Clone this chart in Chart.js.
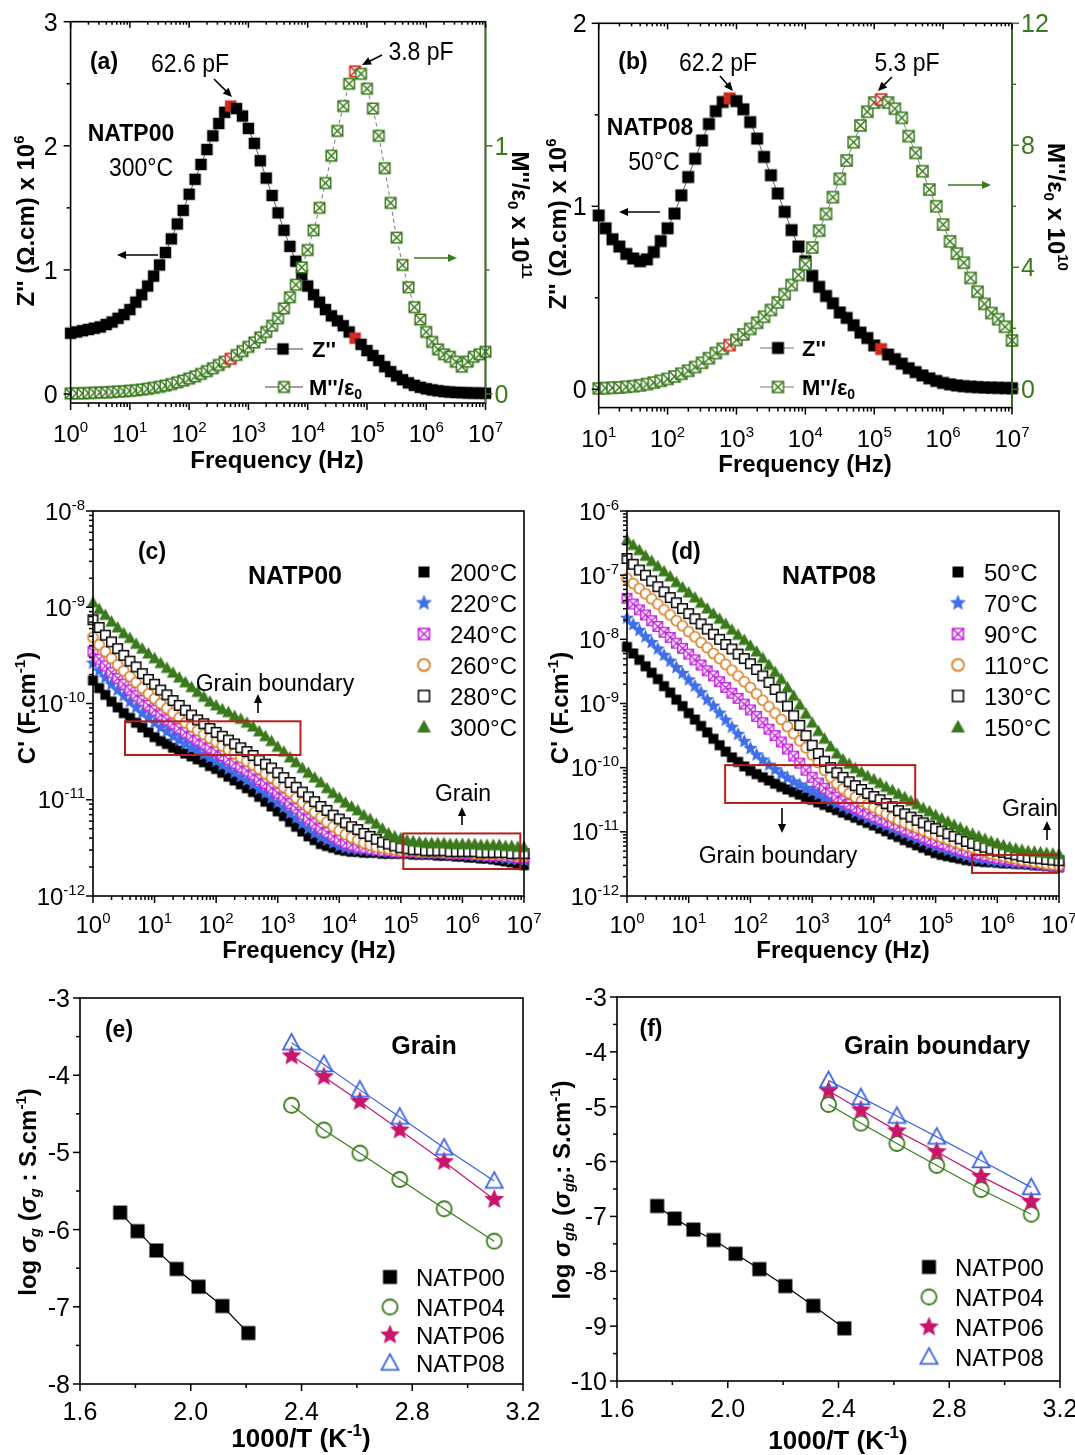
<!DOCTYPE html>
<html><head><meta charset="utf-8">
<script src="https://cdn.jsdelivr.net/npm/chart.js@4.4.1/dist/chart.umd.min.js"></script>
<style>
html,body{margin:0;padding:0;background:#fff;}
#wrap{position:relative;width:1075px;height:1455px;overflow:hidden;background:#fff;}
#wrap canvas{position:absolute;left:0;top:0;}
</style></head><body><div id="wrap">
<canvas id="ca" width="1075" height="1455"></canvas>
<canvas id="cb" width="1075" height="1455"></canvas>
<canvas id="cc" width="1075" height="1455"></canvas>
<canvas id="cd" width="1075" height="1455"></canvas>
<canvas id="ce" width="1075" height="1455"></canvas>
<canvas id="cf" width="1075" height="1455"></canvas>
</div>
<script>
// ---------------- DATA ----------------
// log10(frequency / Hz)
const LOGF_A = [0,0.1,0.2,0.3,0.4,0.5,0.6,0.7,0.8,0.9,1,1.1,1.2,1.3,1.4,1.5,1.6,1.7,1.8,1.9,2,2.1,2.2,2.3,2.4,2.5,2.6,2.7,2.8,2.9,3,3.1,3.2,3.3,3.4,3.5,3.6,3.7,3.8,3.9,4,4.1,4.2,4.3,4.4,4.5,4.6,4.7,4.8,4.9,5,5.1,5.2,5.3,5.4,5.5,5.6,5.7,5.8,5.9,6,6.1,6.2,6.3,6.4,6.5,6.6,6.7,6.8,6.9,7];
const LOGF_B = [1,1.1,1.2,1.3,1.4,1.5,1.6,1.7,1.8,1.9,2,2.1,2.2,2.3,2.4,2.5,2.6,2.7,2.8,2.9,3,3.1,3.2,3.3,3.4,3.5,3.6,3.7,3.8,3.9,4,4.1,4.2,4.3,4.4,4.5,4.6,4.7,4.8,4.9,5,5.1,5.2,5.3,5.4,5.5,5.6,5.7,5.8,5.9,6,6.1,6.2,6.3,6.4,6.5,6.6,6.7,6.8,6.9,7];

// (a) NATP00, 300°C : Z'' (x10^6 ohm.cm) and M''/e0 (x10^11)
const Z_A = [0.49,0.50,0.51,0.52,0.53,0.54,0.56,0.58,0.61,0.64,
 0.68,0.74,0.80,0.87,0.95,1.04,1.14,1.25,1.37,1.48,
 1.61,1.73,1.85,1.97,2.08,2.18,2.27,2.32,2.30,2.24,
 2.14,2.02,1.88,1.74,1.60,1.46,1.32,1.19,1.07,0.96,
 0.87,0.80,0.74,0.68,0.63,0.59,0.55,0.50,0.45,0.40,
 0.35,0.31,0.27,0.22,0.18,0.145,0.115,0.09,0.07,0.054,
 0.042,0.033,0.026,0.02,0.016,0.013,0.011,0.009,0.008,0.007,0.006];
const M_A = [0.002,0.003,0.003,0.004,0.005,0.006,0.007,0.008,0.010,0.011,
 0.013,0.015,0.018,0.021,0.025,0.029,0.034,0.040,0.047,0.054,
 0.062,0.071,0.081,0.092,0.104,0.117,0.130,0.142,0.157,0.173,
 0.190,0.208,0.228,0.250,0.275,0.305,0.345,0.39,0.44,0.51,
 0.58,0.66,0.75,0.85,0.96,1.06,1.16,1.25,1.30,1.29,
 1.23,1.15,1.04,0.91,0.77,0.63,0.52,0.43,0.35,0.30,
 0.25,0.21,0.18,0.16,0.15,0.13,0.11,0.13,0.15,0.16,0.17];
const RED_A = [27,48];

// (b) NATP08, 50°C : Z'' (x10^6) and M''/e0 (x10^10)
const Z_B = [0.95,0.88,0.82,0.78,0.74,0.715,0.70,0.71,0.75,0.81,
 0.88,0.96,1.06,1.16,1.26,1.36,1.45,1.52,1.57,1.59,
 1.575,1.53,1.46,1.37,1.27,1.17,1.07,0.97,0.87,0.78,
 0.70,0.62,0.56,0.51,0.47,0.42,0.39,0.35,0.31,0.28,
 0.24,0.22,0.19,0.165,0.14,0.115,0.094,0.076,0.06,0.046,
 0.035,0.027,0.021,0.017,0.014,0.012,0.010,0.009,0.008,0.007,0.006];
const M_B = [0.03,0.04,0.05,0.06,0.08,0.10,0.13,0.17,0.22,0.28,
 0.34,0.42,0.51,0.61,0.73,0.87,1.02,1.19,1.33,1.45,
 1.62,1.8,1.98,2.18,2.38,2.6,2.85,3.12,3.42,3.75,
 4.1,4.65,5.2,5.75,6.3,6.9,7.5,8.1,8.65,9.1,
 9.4,9.5,9.4,9.2,8.9,8.3,7.75,7.15,6.55,6.0,
 5.4,4.85,4.45,4.15,3.65,3.2,2.8,2.5,2.3,2.05,1.6];
const RED_B = [19,41];

// (c) NATP00 : log10 C' (F/cm) vs LOGF_A
const TEMPS_C = ['200°C','220°C','240°C','260°C','280°C','300°C'];
const LC_200 = [-9.76,-9.84,-9.91,-9.98,-10.04,-10.1,-10.15,-10.2,-10.25,-10.3,
 -10.35,-10.39,-10.42,-10.46,-10.49,-10.52,-10.55,-10.58,-10.61,-10.65,
 -10.68,-10.72,-10.76,-10.8,-10.84,-10.88,-10.92,-10.97,-11.02,-11.07,
 -11.12,-11.17,-11.23,-11.28,-11.33,-11.38,-11.42,-11.46,-11.48,-11.5,
 -11.52,-11.53,-11.54,-11.54,-11.55,-11.55,-11.55,-11.56,-11.56,-11.56,
 -11.56,-11.56,-11.57,-11.57,-11.57,-11.57,-11.58,-11.58,-11.58,-11.59,
 -11.59,-11.6,-11.6,-11.61,-11.61,-11.62,-11.63,-11.64,-11.65,-11.67,-11.68];
const LC_220 = [-9.58,-9.66,-9.73,-9.8,-9.86,-9.92,-9.98,-10.04,-10.1,-10.15,
 -10.2,-10.25,-10.29,-10.34,-10.38,-10.42,-10.46,-10.49,-10.53,-10.56,
 -10.6,-10.64,-10.68,-10.72,-10.76,-10.8,-10.84,-10.89,-10.93,-10.98,
 -11.03,-11.08,-11.14,-11.19,-11.25,-11.3,-11.35,-11.39,-11.42,-11.45,
 -11.48,-11.5,-11.51,-11.52,-11.52,-11.53,-11.53,-11.54,-11.54,-11.55,
 -11.55,-11.55,-11.55,-11.56,-11.56,-11.56,-11.56,-11.56,-11.57,-11.57,
 -11.57,-11.58,-11.58,-11.59,-11.59,-11.6,-11.6,-11.61,-11.62,-11.62,-11.63];
const LC_240 = [-9.46,-9.54,-9.61,-9.68,-9.74,-9.8,-9.86,-9.92,-9.97,-10.02,
 -10.07,-10.12,-10.17,-10.21,-10.26,-10.3,-10.34,-10.38,-10.42,-10.46,
 -10.5,-10.54,-10.58,-10.62,-10.66,-10.7,-10.74,-10.79,-10.83,-10.88,
 -10.93,-10.98,-11.04,-11.09,-11.15,-11.2,-11.25,-11.3,-11.34,-11.38,
 -11.42,-11.45,-11.47,-11.49,-11.5,-11.51,-11.52,-11.53,-11.53,-11.54,
 -11.54,-11.54,-11.54,-11.55,-11.55,-11.55,-11.55,-11.55,-11.56,-11.56,
 -11.56,-11.56,-11.57,-11.57,-11.58,-11.58,-11.58,-11.59,-11.59,-11.6,-11.6];
const LC_260 = [-9.31,-9.39,-9.46,-9.53,-9.6,-9.66,-9.72,-9.78,-9.84,-9.9,
 -9.95,-10.0,-10.05,-10.1,-10.15,-10.2,-10.24,-10.28,-10.32,-10.36,
 -10.4,-10.44,-10.48,-10.52,-10.56,-10.6,-10.64,-10.68,-10.73,-10.77,
 -10.82,-10.87,-10.92,-10.98,-11.03,-11.08,-11.13,-11.18,-11.23,-11.28,
 -11.32,-11.36,-11.39,-11.42,-11.45,-11.47,-11.49,-11.5,-11.51,-11.52,
 -11.53,-11.53,-11.53,-11.54,-11.54,-11.54,-11.54,-11.55,-11.55,-11.55,
 -11.55,-11.55,-11.56,-11.56,-11.56,-11.56,-11.57,-11.57,-11.57,-11.58,-11.58];
const LC_280 = [-9.13,-9.21,-9.29,-9.36,-9.43,-9.5,-9.56,-9.62,-9.69,-9.75,
 -9.8,-9.86,-9.91,-9.97,-10.02,-10.07,-10.12,-10.17,-10.21,-10.26,
 -10.3,-10.34,-10.38,-10.42,-10.46,-10.5,-10.54,-10.59,-10.63,-10.67,
 -10.72,-10.77,-10.82,-10.87,-10.92,-10.97,-11.02,-11.07,-11.11,-11.16,
 -11.2,-11.24,-11.28,-11.31,-11.35,-11.38,-11.41,-11.44,-11.46,-11.48,
 -11.5,-11.51,-11.52,-11.52,-11.53,-11.53,-11.53,-11.53,-11.54,-11.54,
 -11.54,-11.54,-11.54,-11.55,-11.55,-11.55,-11.55,-11.55,-11.56,-11.56,-11.56];
const LC_300 = [-8.95,-9.02,-9.08,-9.15,-9.21,-9.27,-9.32,-9.38,-9.43,-9.48,
 -9.53,-9.58,-9.63,-9.68,-9.73,-9.78,-9.83,-9.88,-9.93,-9.98,
 -10.02,-10.06,-10.09,-10.13,-10.16,-10.2,-10.24,-10.29,-10.34,-10.39,
 -10.45,-10.5,-10.56,-10.61,-10.67,-10.72,-10.77,-10.82,-10.88,-10.93,
 -10.98,-11.03,-11.07,-11.11,-11.16,-11.2,-11.25,-11.3,-11.35,-11.38,
 -11.4,-11.42,-11.43,-11.44,-11.45,-11.45,-11.45,-11.45,-11.46,-11.46,
 -11.46,-11.46,-11.46,-11.47,-11.47,-11.47,-11.47,-11.48,-11.48,-11.49,-11.49];

// (d) NATP08 : log10 C' (F/cm) vs LOGF_A
const TEMPS_D = ['50°C','70°C','90°C','110°C','130°C','150°C'];
const LD_50 = [-8.12,-8.22,-8.32,-8.42,-8.52,-8.62,-8.73,-8.83,-8.94,-9.04,
 -9.15,-9.25,-9.35,-9.45,-9.55,-9.65,-9.75,-9.84,-9.91,-9.98,
 -10.05,-10.1,-10.15,-10.2,-10.25,-10.3,-10.34,-10.38,-10.42,-10.46,
 -10.5,-10.54,-10.58,-10.62,-10.66,-10.7,-10.74,-10.78,-10.82,-10.86,
 -10.9,-10.95,-10.99,-11.04,-11.08,-11.13,-11.17,-11.21,-11.25,-11.29,
 -11.33,-11.36,-11.38,-11.4,-11.42,-11.44,-11.45,-11.46,-11.47,-11.47,
 -11.48,-11.49,-11.49,-11.5,-11.5,-11.51,-11.52,-11.52,-11.53,-11.54,-11.55];
const LD_70 = [-7.67,-7.77,-7.86,-7.96,-8.05,-8.15,-8.25,-8.34,-8.44,-8.53,
 -8.63,-8.73,-8.83,-8.94,-9.04,-9.15,-9.26,-9.37,-9.48,-9.59,
 -9.7,-9.8,-9.88,-9.96,-10.03,-10.1,-10.16,-10.22,-10.27,-10.32,
 -10.37,-10.42,-10.47,-10.52,-10.56,-10.61,-10.65,-10.7,-10.74,-10.79,
 -10.83,-10.87,-10.91,-10.95,-10.99,-11.03,-11.07,-11.11,-11.15,-11.19,
 -11.23,-11.26,-11.29,-11.32,-11.35,-11.38,-11.4,-11.42,-11.43,-11.45,
 -11.46,-11.47,-11.48,-11.49,-11.49,-11.5,-11.51,-11.52,-11.53,-11.55,-11.56];
const LD_90 = [-7.36,-7.45,-7.54,-7.62,-7.71,-7.8,-7.89,-7.97,-8.06,-8.14,
 -8.23,-8.32,-8.4,-8.49,-8.57,-8.66,-8.75,-8.84,-8.92,-9.01,
 -9.1,-9.2,-9.3,-9.4,-9.5,-9.6,-9.71,-9.82,-9.93,-10.04,
 -10.15,-10.24,-10.32,-10.39,-10.46,-10.52,-10.57,-10.62,-10.67,-10.72,
 -10.76,-10.8,-10.84,-10.88,-10.92,-10.96,-11.0,-11.04,-11.08,-11.12,
 -11.15,-11.18,-11.22,-11.25,-11.28,-11.31,-11.33,-11.35,-11.37,-11.39,
 -11.41,-11.42,-11.43,-11.45,-11.46,-11.47,-11.48,-11.49,-11.5,-11.52,-11.53];
const LD_110 = [-7.05,-7.13,-7.21,-7.29,-7.37,-7.45,-7.54,-7.62,-7.71,-7.79,
 -7.88,-7.96,-8.05,-8.13,-8.22,-8.3,-8.39,-8.48,-8.57,-8.66,
 -8.75,-8.85,-8.95,-9.05,-9.15,-9.25,-9.36,-9.47,-9.58,-9.69,
 -9.8,-9.92,-10.04,-10.15,-10.25,-10.33,-10.4,-10.46,-10.52,-10.57,
 -10.62,-10.67,-10.72,-10.77,-10.82,-10.86,-10.9,-10.94,-10.98,-11.02,
 -11.05,-11.09,-11.12,-11.16,-11.19,-11.22,-11.25,-11.28,-11.31,-11.34,
 -11.36,-11.38,-11.4,-11.42,-11.44,-11.45,-11.47,-11.48,-11.5,-11.51,-11.52];
const LD_130 = [-6.74,-6.83,-6.92,-7.0,-7.09,-7.18,-7.26,-7.35,-7.43,-7.52,
 -7.6,-7.68,-7.76,-7.84,-7.92,-8.0,-8.08,-8.15,-8.23,-8.3,
 -8.38,-8.47,-8.57,-8.67,-8.78,-8.9,-9.04,-9.19,-9.34,-9.5,
 -9.65,-9.78,-9.9,-10.0,-10.08,-10.15,-10.22,-10.28,-10.34,-10.4,
 -10.45,-10.5,-10.56,-10.61,-10.67,-10.72,-10.77,-10.82,-10.86,-10.91,
 -10.95,-10.99,-11.03,-11.07,-11.11,-11.15,-11.18,-11.21,-11.24,-11.27,
 -11.3,-11.32,-11.34,-11.36,-11.38,-11.4,-11.41,-11.42,-11.43,-11.44,-11.45];
const LD_150 = [-6.45,-6.53,-6.61,-6.7,-6.78,-6.86,-6.94,-7.02,-7.11,-7.19,
 -7.27,-7.35,-7.43,-7.52,-7.6,-7.68,-7.76,-7.85,-7.93,-8.01,
 -8.1,-8.19,-8.29,-8.4,-8.51,-8.62,-8.75,-8.88,-9.02,-9.16,
 -9.3,-9.43,-9.55,-9.67,-9.78,-9.87,-9.94,-10.01,-10.07,-10.13,
 -10.18,-10.24,-10.3,-10.35,-10.41,-10.46,-10.52,-10.57,-10.63,-10.68,
 -10.74,-10.79,-10.84,-10.89,-10.94,-10.99,-11.03,-11.07,-11.11,-11.15,
 -11.18,-11.21,-11.24,-11.26,-11.28,-11.3,-11.31,-11.32,-11.33,-11.34,-11.35];

// (e),(f) Arrhenius: 1000/T (K^-1) and log sigma
const SAMPLES = ['NATP00','NATP04','NATP06','NATP08'];
const INVT_00_G = [1.745,1.808,1.876,1.949,2.028,2.114,2.208];
const INVT_00_GB = [1.745,1.808,1.876,1.949,2.028,2.114,2.208,2.309,2.421];
const INVT_DOPED = [2.364,2.481,2.611,2.755,2.915,3.096];
const LOGSG_00 = [-5.78,-6.02,-6.27,-6.51,-6.74,-6.99,-7.34];
const LOGSG_04 = [-4.39,-4.71,-5.01,-5.35,-5.73,-6.15];
const LOGSG_06 = [-3.75,-4.02,-4.34,-4.71,-5.12,-5.61];
const LOGSG_08 = [-3.58,-3.86,-4.19,-4.54,-4.94,-5.37];
const LOGSGB_00 = [-6.81,-7.04,-7.24,-7.43,-7.68,-7.96,-8.27,-8.63,-9.04];
const LOGSGB_04 = [-4.96,-5.30,-5.67,-6.07,-6.51,-6.96];
const LOGSGB_06 = [-4.71,-5.06,-5.44,-5.82,-6.27,-6.73];
const LOGSGB_08 = [-4.52,-4.83,-5.17,-5.55,-5.98,-6.47];

// ---------------- STYLE ----------------
const FONT = '"Liberation Sans", Arial, Helvetica, sans-serif';
const GREEN = '#3a7a1c', BLUE = '#3f6ee6', MAG = '#c21fdc', ORANGE = '#d8822a',
      CRIMSON = '#c8176b', BLUET = '#3b63e0', RED = '#d42a1e', BOXRED = '#b3201c';
const TICK_SIZE = 24;

function mk(kind, s, stroke, fill, lw){
  lw = lw || 1.2;
  const n = 2*Math.ceil(s/2 + lw + 1) + 1;
  const c = document.createElement('canvas'); c.width = n; c.height = n;
  const g = c.getContext('2d'); g.translate(n/2, n/2);
  g.lineWidth = lw; g.strokeStyle = stroke || '#000'; g.fillStyle = fill || '#fff';
  const h = s/2;
  if (kind === 'sq'){ g.fillRect(-h,-h,s,s); if (stroke) g.strokeRect(-h,-h,s,s); }
  else if (kind === 'xsq'){ g.fillRect(-h,-h,s,s); g.strokeRect(-h,-h,s,s); g.beginPath(); g.moveTo(-h,-h); g.lineTo(h,h); g.moveTo(h,-h); g.lineTo(-h,h); g.stroke(); }
  else if (kind === 'circ'){ g.beginPath(); g.arc(0,0,h,0,2*Math.PI); g.fill(); g.stroke(); }
  else if (kind === 'tri'){ g.beginPath(); g.moveTo(0,-h*1.05); g.lineTo(h,h*0.8); g.lineTo(-h,h*0.8); g.closePath(); g.fill(); if (stroke) g.stroke(); }
  else if (kind === 'star'){ g.beginPath(); for (let i=0;i<10;i++){ const r = i%2 ? h*0.45 : h; const a = -Math.PI/2 + i*Math.PI/5; g.lineTo(r*Math.cos(a), r*Math.sin(a)); } g.closePath(); g.fill(); }
  return c;
}

function rich(ctx, x, y, parts, o){
  o = o || {};
  const size = o.size || 22, fam = o.fam || FONT, w0 = o.bold ? 'bold ' : '';
  const f = k => (k.indexOf('i')>=0 ? 'italic ' : '') + w0 + ((k.indexOf('^')>=0 || k.indexOf('_')>=0) ? Math.round(size*0.64) : size) + 'px ' + fam;
  ctx.save(); ctx.translate(x, y); if (o.rot) ctx.rotate(o.rot); if (o.sx) ctx.scale(o.sx, 1);
  let w = 0; for (const [t,k] of parts){ ctx.font = f(k||''); w += ctx.measureText(t).width; }
  let cx = o.align === 'left' ? 0 : (o.align === 'right' ? -w : -w/2);
  ctx.fillStyle = o.color || '#000'; ctx.textBaseline = 'alphabetic'; ctx.textAlign = 'left';
  const base = size*0.36;
  for (const [t,k0] of parts){ const k = k0 || ''; ctx.font = f(k); let dy = base;
    if (k.indexOf('^')>=0) dy = base - size*0.42; if (k.indexOf('_')>=0) dy = base + size*0.2;
    ctx.fillText(t, cx, dy); cx += ctx.measureText(t).width; }
  ctx.restore();
}

function arrow(ctx, x1, y1, x2, y2, color, lw, hl){
  lw = lw || 1.6; hl = hl || 9; color = color || '#000';
  const a = Math.atan2(y2-y1, x2-x1);
  ctx.save(); ctx.strokeStyle = color; ctx.fillStyle = color; ctx.lineWidth = lw;
  ctx.beginPath(); ctx.moveTo(x1,y1); ctx.lineTo(x2 - Math.cos(a)*hl*0.8, y2 - Math.sin(a)*hl*0.8); ctx.stroke();
  ctx.beginPath(); ctx.moveTo(x2,y2);
  ctx.lineTo(x2 - hl*Math.cos(a) + hl*0.45*Math.sin(a), y2 - hl*Math.sin(a) - hl*0.45*Math.cos(a));
  ctx.lineTo(x2 - hl*Math.cos(a) - hl*0.45*Math.sin(a), y2 - hl*Math.sin(a) + hl*0.45*Math.cos(a));
  ctx.closePath(); ctx.fill(); ctx.restore();
}

function decades(e0, e1){ const r = []; for (let e=e0; e<=e1; e++) r.push(Math.pow(10,e)); return r; }
function logMinor(e0, e1){ const r = []; for (let e=e0; e<e1; e++) for (let k=2; k<10; k++) r.push(k*Math.pow(10,e)); return r; }
function decLabels(e0, e1){ const r = []; for (let e=e0; e<=e1; e++) r.push([Math.pow(10,e), [['10',''],[String(e),'^']]]); return r; }
function numLabels(vals, fmt){ return vals.map(v => [v, [[fmt ? fmt(v) : String(v), '']]]); }

function drawAxis(chart, a){
  const ctx = chart.ctx, ca = chart.chartArea, s = chart.scales[a.scale];
  ctx.save(); ctx.strokeStyle = a.color || '#000'; ctx.lineWidth = a.lw || 1.5;
  const tick = (v, len) => { const p = s.getPixelForValue(v); ctx.beginPath();
    if (a.side === 'bottom'){ const d = a.inward ? -1 : 1; ctx.moveTo(p, ca.bottom); ctx.lineTo(p, ca.bottom + d*len); }
    else if (a.side === 'top'){ const d = a.inward ? 1 : -1; ctx.moveTo(p, ca.top); ctx.lineTo(p, ca.top + d*len); }
    else if (a.side === 'left'){ const d = a.inward ? 1 : -1; ctx.moveTo(ca.left, p); ctx.lineTo(ca.left + d*len, p); }
    else { const d = a.inward ? -1 : 1; ctx.moveTo(ca.right, p); ctx.lineTo(ca.right + d*len, p); }
    ctx.stroke(); };
  (a.major || []).forEach(v => tick(v, a.len || 7));
  (a.minor || []).forEach(v => tick(v, a.mlen || 4));
  ctx.restore();
  (a.labels || []).forEach(([v, parts]) => { const p = s.getPixelForValue(v);
    const o = {size: a.size || TICK_SIZE, color: a.color || '#000', sx: a.sx};
    if (a.side === 'bottom'){ o.align = 'center'; rich(ctx, p, ca.bottom + a.pad, parts, o); }
    else if (a.side === 'left'){ o.align = 'right'; rich(ctx, ca.left - a.pad, p, parts, o); }
    else if (a.side === 'right'){ o.align = 'left'; rich(ctx, ca.right + a.pad, p, parts, o); }
  });
}

function decoPlugin(S){
  return { id: 'deco', afterDatasetsDraw(chart){
    const ctx = chart.ctx, ca = chart.chartArea;
    ctx.save();
    (S.boxes || []).forEach(b => { const xs = chart.scales.x, ys = chart.scales.y;
      const x1 = xs.getPixelForValue(b.x0), x2 = xs.getPixelForValue(b.x1), y1 = ys.getPixelForValue(b.y1), y2 = ys.getPixelForValue(b.y0);
      ctx.strokeStyle = BOXRED; ctx.lineWidth = 2; ctx.strokeRect(x1, y1, x2-x1, y2-y1); });
    ctx.lineWidth = 1.6; ctx.strokeStyle = '#000';
    ctx.strokeRect(ca.left, ca.top, ca.right-ca.left, ca.bottom-ca.top);
    if (S.rightColor){ ctx.strokeStyle = S.rightColor; ctx.beginPath(); ctx.moveTo(ca.right, ca.top); ctx.lineTo(ca.right, ca.bottom); ctx.stroke(); }
    ctx.restore();
    (S.axes || []).forEach(a => drawAxis(chart, a));
    (S.texts || []).forEach(t => rich(ctx, t.x, t.y, t.p, t));
    (S.arrows || []).forEach(r => arrow(ctx, r[0], r[1], r[2], r[3], r[4]));
    (S.legend || []).forEach(l => {
      if (l.line){ ctx.save(); ctx.strokeStyle = l.lineColor || '#444'; ctx.lineWidth = 1; ctx.beginPath(); ctx.moveTo(l.line[0], l.y); ctx.lineTo(l.line[1], l.y); ctx.stroke(); ctx.restore(); }
      ctx.drawImage(l.img, l.mx - l.img.width/2, l.y - l.img.height/2);
      rich(ctx, l.tx, l.y, l.p, {size: l.size || 24, bold: l.bold, align: 'left'});
    });
  }};
}

function pad(R){ return {left: R.l, top: R.t, right: 1075 - R.r, bottom: 1455 - R.b}; }
function pts(xs, ys, f){ return xs.map((x,i) => ({x: f ? f(x) : x, y: ys[i]})); }
const p10 = v => Math.pow(10, v);

function baseOpts(R, scales){
  return { responsive: false, animation: false, events: [], layout: {padding: pad(R)},
    plugins: {legend: {display: false}, tooltip: {enabled: false}}, scales: scales };
}
function scatterDs(data, img, extra){
  return Object.assign({data: data, pointStyle: img, pointRadius: 5, pointHoverRadius: 5, showLine: false,
    borderWidth: 0, clip: false}, extra || {});
}

// ---------------- PANEL (a) ----------------
(function(){
  const R = {l:70.6, t:21.7, r:485.5, b:403};
  const sqK = mk('sq', 11.5, null, '#000'), sqR = mk('sq', 11.5, null, RED);
  const xsG = mk('xsq', 10.5, GREEN, '#fff', 1.5), xsR = mk('xsq', 10.5, RED, '#fff', 1.5);
  const S = {
    rightColor: GREEN,
    axes: [
      {scale:'x', side:'bottom', major: decades(0,7), minor: logMinor(0,7), labels: decLabels(0,7), pad: 30},
      {scale:'x', side:'top', inward: true, major: decades(0,7), minor: logMinor(0,7), len: 6, mlen: 3},
      {scale:'y', side:'left', major:[0,1,2,3], minor:[0.5,1.5,2.5], labels: numLabels([0,1,2,3]), pad: 13, size: 25},
      {scale:'y2', side:'right', color: GREEN, major:[0,1], minor:[0.5], labels: numLabels([0,1]), pad: 9, size: 25}
    ],
    texts: [
      {x:104, y:61, p:[['(a)','']], size:23, bold:true},
      {x:190, y:63, p:[['62.6 pF','']], size:25, sx:0.92},
      {x:421, y:51, p:[['3.8 pF','']], size:25, sx:0.92},
      {x:131, y:133, p:[['NATP00','']], size:23, bold:true},
      {x:141, y:167, p:[['300°C','']], size:25, sx:0.92},
      {x:25, y:221, p:[["Z'' (Ω.cm) x 10",''],['6','^']], size:24, bold:true, rot:-Math.PI/2},
      {x:521, y:215, p:[["M''/ε",''],['0','_'],[' x 10',''],['11','^']], size:24, bold:true, rot:Math.PI/2},
      {x:277, y:459, p:[['Frequency (Hz)','']], size:24, bold:true}
    ],
    arrows: [[214,79,232,97,'#000'],[382,55,362,65,'#000'],[158,255,117,255,'#000'],[414,258,457,258,GREEN]],
    legend: [
      {y:349, line:[265,303], lineColor:'#444', img: sqK, mx:283, tx:312, p:[["Z''",'']], size:22, bold:true},
      {y:387, line:[265,303], lineColor:'#444', img: xsG, mx:284, tx:309, p:[["M''/ε",''],['0','_']], size:22, bold:true}
    ]
  };
  new Chart(document.getElementById('ca'), {
    type: 'scatter',
    data: {datasets: [
      scatterDs(pts(LOGF_A, M_A, p10), c => RED_A.indexOf(c.dataIndex) >= 0 ? xsR : xsG, {yAxisID:'y2', showLine:true, borderColor:'#555', borderWidth:0.8, borderDash:[4,3], label:"M''/ε0"}),
      scatterDs(pts(LOGF_A, Z_A, p10), c => RED_A.indexOf(c.dataIndex) >= 0 ? sqR : sqK, {yAxisID:'y', showLine:true, borderColor:'#333', borderWidth:0.8, label:"Z''"})
    ]},
    options: baseOpts(R, {
      x: {type:'logarithmic', min:1, max:1e7, display:false},
      y: {type:'linear', min:-0.0725, max:3, display:false},
      y2: {type:'linear', position:'right', min:-0.03625, max:1.5, display:false}
    }),
    plugins: [decoPlugin(S)]
  });
})();

// ---------------- PANEL (b) ----------------
(function(){
  const R = {l:598.7, t:23.3, r:1012, b:407.6};
  const sqK = mk('sq', 12, null, '#000'), sqR = mk('sq', 12, null, RED);
  const xsG = mk('xsq', 11, GREEN, '#fff', 1.5), xsR = mk('xsq', 11, RED, '#fff', 1.5);
  const S = {
    rightColor: GREEN,
    axes: [
      {scale:'x', side:'bottom', major: decades(1,7), minor: logMinor(1,7), labels: decLabels(1,7), pad: 31},
      {scale:'x', side:'top', inward: true, major: decades(1,7), minor: logMinor(1,7), len: 6, mlen: 3},
      {scale:'y', side:'left', major:[0,1,2], minor:[0.5,1.5], labels: numLabels([0,1,2]), pad: 12, size: 25},
      {scale:'y2', side:'right', color: GREEN, major:[0,4,8,12], minor:[2,6,10], labels: numLabels([0,4,8,12]), pad: 9, size: 25}
    ],
    texts: [
      {x:633, y:61, p:[['(b)','']], size:23, bold:true},
      {x:718, y:62, p:[['62.2 pF','']], size:25, sx:0.92},
      {x:907, y:62, p:[['5.3 pF','']], size:25, sx:0.92},
      {x:650, y:127, p:[['NATP08','']], size:23, bold:true},
      {x:654, y:161, p:[['50°C','']], size:25, sx:0.92},
      {x:557, y:224, p:[["Z'' (Ω.cm) x 10",''],['6','^']], size:24, bold:true, rot:-Math.PI/2},
      {x:1057, y:207, p:[["M''/ε",''],['0','_'],[' x 10',''],['10','^']], size:24, bold:true, rot:Math.PI/2},
      {x:805, y:463, p:[['Frequency (Hz)','']], size:24, bold:true}
    ],
    arrows: [[720,76,733,91,'#000'],[892,77,878,91,'#000'],[660,212,619,212,'#000'],[948,185,991,185,GREEN]],
    legend: [
      {y:348, line:[760,794], lineColor:'#777', img: sqK, mx:778, tx:802, p:[["Z''",'']], size:22, bold:true},
      {y:387, line:[760,794], lineColor:'#777', img: xsG, mx:778, tx:802, p:[["M''/ε",''],['0','_']], size:22, bold:true}
    ]
  };
  new Chart(document.getElementById('cb'), {
    type: 'scatter',
    data: {datasets: [
      scatterDs(pts(LOGF_B, M_B, p10), c => RED_B.indexOf(c.dataIndex) >= 0 ? xsR : xsG, {yAxisID:'y2', showLine:true, borderColor:'#666', borderWidth:0.8, label:"M''/ε0"}),
      scatterDs(pts(LOGF_B, Z_B, p10), c => RED_B.indexOf(c.dataIndex) >= 0 ? sqR : sqK, {yAxisID:'y', showLine:true, borderColor:'#333', borderWidth:0.8, label:"Z''"})
    ]},
    options: baseOpts(R, {
      x: {type:'logarithmic', min:10, max:1e7, display:false},
      y: {type:'linear', min:-0.1, max:2, display:false},
      y2: {type:'linear', position:'right', min:-0.6, max:12, display:false}
    }),
    plugins: [decoPlugin(S)]
  });
})();

// ---------------- PANELS (c), (d) ----------------
function capPanel(id, R, ymin, ymaxE, series, temps, texts, boxes, arrows, legX){
  const imgs = [mk('sq',10,null,'#000'), mk('star',15,null,BLUE), mk('xsq',9.5,MAG,'#fff',1.4), mk('circ',10,ORANGE,'#fff',1.7), mk('sq',9.5,'#000','#fff',1.5), mk('tri',12.5,null,GREEN)];
  const limgs = [mk('sq',11,null,'#000'), mk('star',17,null,BLUE), mk('xsq',11,MAG,'#fff',1.5), mk('circ',12,ORANGE,'#fff',1.8), mk('sq',11,'#000','#fff',1.5), mk('tri',14,null,GREEN)];
  const rows = [572,603,634,665,696,727];
  const S = {
    axes: [
      {scale:'x', side:'bottom', major: decades(0,7), minor: logMinor(0,7), labels: decLabels(0,7), pad: 28},
      {scale:'y', side:'left', major: decades(ymin, ymaxE), minor: logMinor(ymin, ymaxE), labels: decLabels(ymin, ymaxE), pad: 8}
    ],
    texts: texts, boxes: boxes, arrows: arrows,
    legend: temps.map((t,i) => ({y: rows[i], img: limgs[i], mx: legX, tx: legX + 26, p: [[t,'']], size: 24}))
  };
  const ds = [];
  for (let i = series.length - 1; i >= 0; i--) ds.push(scatterDs(pts(LOGF_A, series[i].map(p10), p10), imgs[i], {label: temps[i]}));
  new Chart(document.getElementById(id), {
    type: 'scatter', data: {datasets: ds},
    options: baseOpts(R, {
      x: {type:'logarithmic', min:1, max:1e7, display:false},
      y: {type:'logarithmic', min:Math.pow(10,ymin), max:Math.pow(10,ymaxE), display:false}
    }),
    plugins: [decoPlugin(S)]
  });
}

capPanel('cc', {l:93, t:511, r:524, b:896}, -12, -8, [LC_200, LC_220, LC_240, LC_260, LC_280, LC_300], TEMPS_C,
  [ {x:152, y:551, p:[['(c)','']], size:23, bold:true},
    {x:295, y:575, p:[['NATP00','']], size:25, bold:true},
    {x:275, y:683, p:[['Grain boundary','']], size:23},
    {x:463, y:793, p:[['Grain','']], size:23},
    {x:26, y:708, p:[["C' (F.cm",''],['-1','^'],[')','']], size:24, bold:true, rot:-Math.PI/2},
    {x:309, y:949, p:[['Frequency (Hz)','']], size:24, bold:true} ],
  [ {x0: Math.pow(10,0.52), x1: Math.pow(10,3.37), y0: Math.pow(10,-10.535), y1: Math.pow(10,-10.185)},
    {x0: Math.pow(10,5.04), x1: Math.pow(10,6.94), y0: Math.pow(10,-11.72), y1: Math.pow(10,-11.35)} ],
  [[258,713,258,694,'#000'],[462,825,462,807,'#000']], 424);

capPanel('cd', {l:627, t:511, r:1059, b:896}, -12, -6, [LD_50, LD_70, LD_90, LD_110, LD_130, LD_150], TEMPS_D,
  [ {x:686, y:551, p:[['(d)','']], size:23, bold:true},
    {x:829, y:575, p:[['NATP08','']], size:25, bold:true},
    {x:778, y:855, p:[['Grain boundary','']], size:23},
    {x:1030, y:808, p:[['Grain','']], size:23},
    {x:559, y:708, p:[["C' (F.cm",''],['-1','^'],[')','']], size:24, bold:true, rot:-Math.PI/2},
    {x:843, y:949, p:[['Frequency (Hz)','']], size:24, bold:true} ],
  [ {x0: Math.pow(10,1.59), x1: Math.pow(10,4.67), y0: Math.pow(10,-10.55), y1: Math.pow(10,-9.96)},
    {x0: Math.pow(10,5.59), x1: Math.pow(10,6.99), y0: Math.pow(10,-11.64), y1: Math.pow(10,-11.36)} ],
  [[782,808,782,833,'#000'],[1047,840,1047,821,'#000']], 958);

// ---------------- PANELS (e), (f) ----------------
function arrPanel(id, R, ymin, ymax, xs00, ys00, ys04, ys06, ys08, texts, legX, legRows){
  const imgs = [mk('sq',14,null,'#000'), mk('circ',15,GREEN,'rgba(255,255,255,0)',1.8), mk('star',21,null,CRIMSON), mk('tri',17,BLUET,'rgba(255,255,255,0)',1.8)];
  const limgs = [mk('sq',14,null,'#000'), mk('circ',15,GREEN,'rgba(255,255,255,0)',1.8), mk('star',21,null,CRIMSON), mk('tri',17,BLUET,'rgba(255,255,255,0)',1.8)];
  const major = [], minor = [];
  for (let v = ymax; v >= ymin; v--) major.push(v);
  for (let v = ymax - 0.5; v > ymin; v--) minor.push(v);
  const S = {
    axes: [
      {scale:'x', side:'bottom', major:[1.6,2.0,2.4,2.8,3.2], minor:[1.8,2.2,2.6,3.0], labels: numLabels([1.6,2.0,2.4,2.8,3.2], v => v.toFixed(1)), pad: 27, size: 25},
      {scale:'y', side:'left', major: major, minor: minor, labels: numLabels(major), pad: 10, size: 25}
    ],
    texts: texts,
    legend: SAMPLES.map((s,i) => ({y: legRows[i], img: limgs[i], mx: legX, tx: legX + 26, p: [[s,'']], size: 24}))
  };
  new Chart(document.getElementById(id), {
    type: 'scatter',
    data: {datasets: [
      scatterDs(pts(INVT_DOPED, ys08), imgs[3], {showLine:true, borderColor:BLUET, borderWidth:1.2, label:'NATP08'}),
      scatterDs(pts(INVT_DOPED, ys06), imgs[2], {showLine:true, borderColor:CRIMSON, borderWidth:1.2, label:'NATP06'}),
      scatterDs(pts(INVT_DOPED, ys04), imgs[1], {showLine:true, borderColor:GREEN, borderWidth:1.2, label:'NATP04'}),
      scatterDs(pts(xs00, ys00), imgs[0], {showLine:true, borderColor:'#000', borderWidth:1.2, label:'NATP00'})
    ]},
    options: baseOpts(R, {
      x: {type:'linear', min:1.6, max:3.2, display:false},
      y: {type:'linear', min:ymin, max:ymax, display:false}
    }),
    plugins: [decoPlugin(S)]
  });
}

arrPanel('ce', {l:80, t:998, r:523, b:1384}, -8, -3, INVT_00_G, LOGSG_00, LOGSG_04, LOGSG_06, LOGSG_08,
  [ {x:119, y:1029, p:[['(e)','']], size:23, bold:true},
    {x:424, y:1045, p:[['Grain','']], size:25, bold:true},
    {x:27, y:1192, p:[['log ',''],['σ','i'],['g','i_'],[' (',''],['σ','i'],['g','i_'],[' : S.cm',''],['-1','^'],[')','']], size:24, bold:true, rot:-Math.PI/2},
    {x:301, y:1438, p:[['1000/T (K',''],['-1','^'],[')','']], size:26, bold:true} ],
  390, [1277,1307,1335,1363]);

arrPanel('cf', {l:617, t:997, r:1060, b:1381}, -10, -3, INVT_00_GB, LOGSGB_00, LOGSGB_04, LOGSGB_06, LOGSGB_08,
  [ {x:651, y:1028, p:[['(f)','']], size:23, bold:true},
    {x:937, y:1045, p:[['Grain boundary','']], size:25, bold:true},
    {x:561, y:1190, p:[['log ',''],['σ','i'],['gb','i_'],[' (',''],['σ','i'],['gb','i_'],[': S.cm',''],['-1','^'],[')','']], size:24, bold:true, rot:-Math.PI/2},
    {x:838, y:1440, p:[['1000/T (K',''],['-1','^'],[')','']], size:26, bold:true} ],
  929, [1267,1297,1327,1357]);
</script></body></html>
